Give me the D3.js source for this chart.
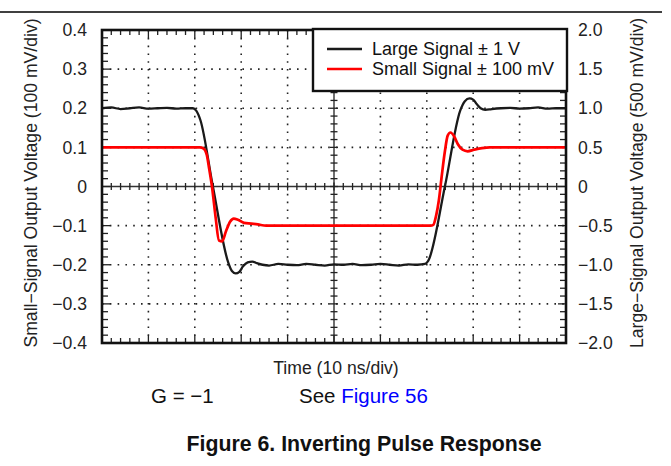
<!DOCTYPE html>
<html><head><meta charset="utf-8">
<script src="https://cdn.jsdelivr.net/npm/d3@7"></script>
<style>
html,body{margin:0;padding:0;background:#fff;}
svg{display:block;font-family:"Liberation Sans",Arial,Helvetica,sans-serif;}
</style></head>
<body>
<script>
// ---- data ----
const leftTicks = [0.4, 0.3, 0.2, 0.1, 0, -0.1, -0.2, -0.3, -0.4];
const leftTickLabels = ["0.4","0.3","0.2","0.1","0","\u22120.1","\u22120.2","\u22120.3","\u22120.4"];
const rightTicks = [2.0, 1.5, 1.0, 0.5, 0, -0.5, -1.0, -1.5, -2.0];
const rightTickLabels = ["2.0","1.5","1.0","0.5","0","\u22120.5","\u22121.0","\u22121.5","\u22122.0"];
const timeTicks = [0,10,20,30,40,50,60,70,80,90,100];

// Large signal (V, right axis) vs time (ns)
const largeT = [0,2,4,6,8,10,12,14,16,18,19.6,20.3,21.2,23.9,27.2,28.0,28.8,29.6,30.4,31.4,32.4,33.4,34.6,36,38,40,42,44,46,48,50,52,54,56,58,60,62,64,66,68,69.6,70.3,73.9,77.2,78.2,79.2,80.0,80.8,81.6,82.6,84,86,88,90,92,94,96,98,100];
const largeV = [1.0,1.01,0.99,1.0,1.01,0.995,1.0,1.005,0.995,1.0,1.0,0.97,0.85,0.0,-0.97,-1.08,-1.11,-1.09,-1.02,-0.97,-0.96,-0.98,-1.0,-1.01,-0.99,-1.0,-1.005,-0.99,-1.0,-1.01,-0.995,-1.0,-0.99,-1.005,-1.0,-0.99,-1.0,-1.01,-0.995,-1.0,-0.99,-0.95,0.0,0.97,1.09,1.125,1.11,1.05,1.0,0.98,0.99,1.0,1.005,0.995,1.0,1.01,0.995,1.0,1.0];

// Small signal (V, left axis) vs time (ns)
const smallT = [0,5,10,15,20,21.1,21.9,22.6,23.1,23.7,24.5,25.2,25.9,26.7,27.6,28.4,29.3,30.6,32.2,33.6,35.4,40,45,50,55,60,65,70.8,71.4,72.0,72.6,73.2,73.9,74.5,75.1,75.9,76.7,77.7,78.8,80.2,81.9,83.6,90,95,100];
const smallV = [0.1,0.1,0.1,0.1,0.1,0.1,0.097,0.08,0.045,0.0,-0.08,-0.138,-0.14,-0.115,-0.09,-0.082,-0.085,-0.093,-0.095,-0.097,-0.1,-0.1,-0.1,-0.1,-0.1,-0.1,-0.1,-0.1,-0.098,-0.075,-0.035,0.025,0.09,0.13,0.138,0.128,0.108,0.094,0.09,0.094,0.098,0.1,0.1,0.1,0.1];

const seriesNames = ["Large Signal \u00b1 1 V", "Small Signal \u00b1 100 mV"];
const seriesColors = ["#1a1a1a", "#ff0000"];

// ---- layout ----
const W = 671, H = 466;
const m = {left:102, top:30, right:105, bottom:123};
const pw = W - m.left - m.right, ph = H - m.top - m.bottom;
const AX_FS = 17.6;

const svg = d3.select("body").append("svg").attr("width", W).attr("height", H);

// top rule
svg.append("line").attr("x1",0).attr("x2",662).attr("y1",12).attr("y2",12)
  .attr("stroke","#000").attr("stroke-width",1.5);

const x = d3.scaleLinear().domain([0,100]).range([m.left, m.left+pw]);
const yL = d3.scaleLinear().domain([-0.4,0.4]).range([m.top+ph, m.top]);
const yR = d3.scaleLinear().domain([-2,2]).range([m.top+ph, m.top]);

const g = svg.append("g");

// dotted grid
const grid = g.append("g").attr("stroke","#222").attr("stroke-width",1.6).attr("stroke-dasharray","1.6,6.2");
timeTicks.filter(t => t>0 && t<100 && t!==50).forEach(t => {
  grid.append("line").attr("x1",x(t)).attr("x2",x(t)).attr("y1",m.top).attr("y2",m.top+ph);
});
leftTicks.filter(v => Math.abs(v)<0.39 && v!==0).forEach(v => {
  grid.append("line").attr("x1",m.left).attr("x2",m.left+pw).attr("y1",yL(v)).attr("y2",yL(v));
});

// center axes
const cx = x(50), cy = yL(0);
g.append("line").attr("x1",m.left).attr("x2",m.left+pw).attr("y1",cy).attr("y2",cy).attr("stroke","#333").attr("stroke-width",1.4);
g.append("line").attr("x1",cx).attr("x2",cx).attr("y1",m.top).attr("y2",m.top+ph).attr("stroke","#333").attr("stroke-width",1.4);

// minor ticks
const ticksG = g.append("g").attr("stroke","#222").attr("stroke-width",1.3);
const xMinor = d3.range(0, 101, 2);
xMinor.forEach(t => {
  const major = t % 10 === 0;
  const L = major ? 8 : 5;
  const px = x(t);
  if (t > 0 && t < 100) {
    ticksG.append("line").attr("x1",px).attr("x2",px).attr("y1",m.top+ph).attr("y2",m.top+ph-L);
    ticksG.append("line").attr("x1",px).attr("x2",px).attr("y1",m.top).attr("y2",m.top+L);
    ticksG.append("line").attr("x1",px).attr("x2",px).attr("y1",cy-(major?4:3.5)).attr("y2",cy+(major?4:3.5));
  }
});
const yMinor = d3.range(-40, 41, 2).map(v => v/100);
yMinor.forEach((v,i) => {
  const major = Math.round(v*100) % 10 === 0;
  const L = major ? 8 : 6;
  const py = yL(v);
  if (Math.abs(v) < 0.399) {
    ticksG.append("line").attr("x1",m.left).attr("x2",m.left+L).attr("y1",py).attr("y2",py);
    ticksG.append("line").attr("x1",m.left+pw).attr("x2",m.left+pw-L).attr("y1",py).attr("y2",py);
    ticksG.append("line").attr("x1",cx-(major?4:3.5)).attr("x2",cx+(major?4:3.5)).attr("y1",py).attr("y2",py);
  }
});

// curves
const largeData = largeT.map((t,i) => [t, largeV[i]]);
const smallData = smallT.map((t,i) => [t, smallV[i]]);
g.append("path").datum(largeData)
  .attr("d", d3.line().x(d => x(d[0])).y(d => yR(d[1])).curve(d3.curveMonotoneX))
  .attr("fill","none").attr("stroke",seriesColors[0]).attr("stroke-width",2.3).attr("stroke-linejoin","round");
g.append("path").datum(smallData)
  .attr("d", d3.line().x(d => x(d[0])).y(d => yL(d[1])).curve(d3.curveMonotoneX))
  .attr("fill","none").attr("stroke",seriesColors[1]).attr("stroke-width",2.7).attr("stroke-linejoin","round");

// frame
g.append("rect").attr("x",m.left).attr("y",m.top).attr("width",pw).attr("height",ph)
  .attr("fill","none").attr("stroke","#111").attr("stroke-width",2.6);

// left tick labels
const leftAxis = d3.axisLeft(yL).tickValues(leftTicks).tickSize(0).tickPadding(15)
  .tickFormat((d,i) => leftTickLabels[i]);
const la = svg.append("g").attr("transform",`translate(${m.left},0)`).call(leftAxis);
la.select(".domain").remove();
la.selectAll("text").attr("font-size",AX_FS).attr("fill","#222").attr("font-family","'Liberation Sans',Arial,sans-serif");

const rightAxis = d3.axisRight(yR).tickValues(rightTicks).tickSize(0).tickPadding(12)
  .tickFormat((d,i) => rightTickLabels[i]);
const ra = svg.append("g").attr("transform",`translate(${m.left+pw},0)`).call(rightAxis);
ra.select(".domain").remove();
ra.selectAll("text").attr("font-size",AX_FS).attr("fill","#222").attr("font-family","'Liberation Sans',Arial,sans-serif");

// axis titles
svg.append("text").attr("transform",`translate(31,183) rotate(-90)`)
  .attr("text-anchor","middle").attr("dominant-baseline","central")
  .attr("font-size",AX_FS).attr("fill","#222").text("Small\u2212Signal Output Voltage (100 mV/div)");
svg.append("text").attr("transform",`translate(637,183) rotate(-90)`)
  .attr("text-anchor","middle").attr("dominant-baseline","central")
  .attr("font-size",AX_FS).attr("fill","#222").text("Large\u2212Signal Output Voltage (500 mV/div)");
svg.append("text").attr("x",x(50)+2).attr("y",374).attr("text-anchor","middle")
  .attr("font-size",AX_FS).attr("fill","#222").text("Time (10 ns/div)");

// legend
const lg = svg.append("g");
lg.append("rect").attr("x",313).attr("y",29).attr("width",254).attr("height",62)
  .attr("fill","#fff").attr("stroke","#111").attr("stroke-width",2.4);
seriesNames.forEach((n,i) => {
  const yy = 49 + i*20;
  lg.append("line").attr("x1",327).attr("x2",362).attr("y1",yy).attr("y2",yy)
    .attr("stroke",seriesColors[i]).attr("stroke-width",2.6);
  lg.append("text").attr("x",372).attr("y",yy).attr("dominant-baseline","central")
    .attr("font-size",18).attr("fill","#111").text(n);
});

// notes
svg.append("text").attr("x",151).attr("y",403).attr("font-size",20.5).attr("fill","#111").text("G = \u22121");
const see = svg.append("text").attr("x",299).attr("y",403).attr("font-size",20.5).attr("fill","#111");
see.append("tspan").text("See ");
see.append("tspan").attr("fill","#0000ff").text("Figure 56");

svg.append("text").attr("x",364).attr("y",451).attr("text-anchor","middle")
  .attr("font-size",21.3).attr("font-weight","bold").attr("fill","#111")
  .text("Figure 6. Inverting Pulse Response");
</script>
</body></html>
